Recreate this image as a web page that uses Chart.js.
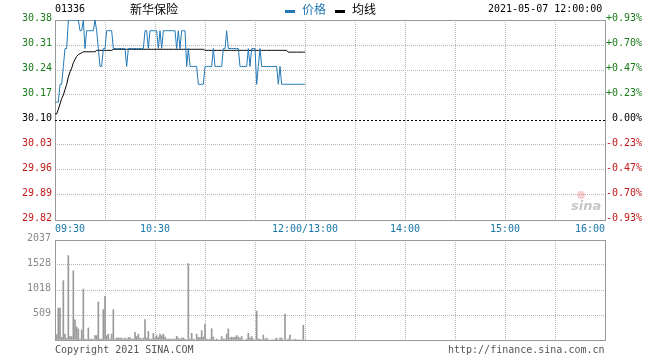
<!DOCTYPE html>
<html>
<head>
<meta charset="utf-8">
<script src="https://cdn.jsdelivr.net/npm/chart.js@4.4.0/dist/chart.umd.min.js"></script>
<style>
body{margin:0;background:#fff;width:660px;height:360px;position:relative;overflow:hidden;font-family:"DejaVu Sans Mono",monospace;font-size:10px;color:#000}
canvas{position:absolute;left:0}
#main{top:0}
#vol{top:230px}
.t{position:absolute;white-space:nowrap;line-height:12px}
.cjk{font-family:"Noto Sans CJK SC",sans-serif;font-size:12px;line-height:14px}
.dash{position:absolute;height:3px;width:10px}
</style>
</head>
<body>
<canvas id="main" width="660" height="235"></canvas>
<canvas id="vol" width="660" height="130"></canvas>

<div class="t" style="left:55px;top:3px">01336</div>
<div class="t cjk" style="left:130px;top:2px">新华保险</div>
<div class="dash" style="left:285px;top:10px;background:#2278b5"></div>
<div class="t cjk" style="left:302px;top:2px;color:#2278b5">价格</div>
<div class="dash" style="left:335px;top:10px;background:#000"></div>
<div class="t cjk" style="left:352px;top:2px">均线</div>
<div class="t" style="left:488px;top:3px">2021-05-07 12:00:00</div>
<div class="t" style="left:55px;top:344px;color:#555">Copyright 2021 SINA.COM</div>
<div class="t" style="left:448px;top:344px;color:#555">http://finance.sina.com.cn</div>

<script>
// minute prices 09:30 - 12:00, one per minute
const price = [
  30.15, 30.15, 30.15, 30.20, 30.20, 30.25, 30.30, 30.30, 30.38, 30.38,
  30.38, 30.38, 30.38, 30.38, 30.38, 30.35, 30.35, 30.38, 30.30, 30.35,
  30.35, 30.35, 30.35, 30.35, 30.38, 30.35, 30.30, 30.25, 30.25, 30.30,
  30.30, 30.35, 30.35, 30.35, 30.35, 30.30, 30.30, 30.30, 30.30, 30.30,
  30.30, 30.30, 30.30, 30.25, 30.30, 30.30, 30.30, 30.30, 30.30, 30.30,
  30.30, 30.30, 30.30, 30.30, 30.35, 30.35, 30.30, 30.35, 30.35, 30.35,
  30.35, 30.35, 30.30, 30.35, 30.30, 30.35, 30.35, 30.35, 30.35, 30.35,
  30.35, 30.35, 30.35, 30.30, 30.35, 30.30, 30.35, 30.35, 30.35, 30.25,
  30.30, 30.25, 30.25, 30.25, 30.25, 30.25, 30.20, 30.20, 30.20, 30.20,
  30.25, 30.25, 30.25, 30.25, 30.25, 30.30, 30.25, 30.25, 30.25, 30.25,
  30.25, 30.30, 30.30, 30.35, 30.30, 30.30, 30.30, 30.30, 30.30, 30.30,
  30.30, 30.25, 30.25, 30.25, 30.25, 30.25, 30.30, 30.25, 30.30, 30.30,
  30.30, 30.20, 30.25, 30.30, 30.25, 30.25, 30.25, 30.25, 30.25, 30.25,
  30.25, 30.25, 30.25, 30.25, 30.20, 30.25, 30.20, 30.20, 30.20, 30.20,
  30.20, 30.20, 30.20, 30.20, 30.20, 30.20, 30.20, 30.20, 30.20, 30.20,
  30.20
];

const avgPrice = [
  30.117, 30.117, 30.130, 30.145, 30.160, 30.170, 30.185, 30.200, 30.220, 30.235,
  30.245, 30.260, 30.270, 30.278, 30.283, 30.286, 30.288, 30.291, 30.291, 30.291,
  30.291, 30.291, 30.291, 30.291, 30.291, 30.295, 30.295, 30.295, 30.295, 30.295,
  30.295, 30.295, 30.295, 30.295, 30.295, 30.298, 30.298, 30.298, 30.298, 30.298,
  30.298, 30.298, 30.298, 30.298, 30.298, 30.298, 30.298, 30.298, 30.298, 30.298,
  30.298, 30.298, 30.298, 30.298, 30.298, 30.298, 30.298, 30.298, 30.298, 30.298,
  30.298, 30.298, 30.298, 30.298, 30.298, 30.298, 30.298, 30.298, 30.298, 30.298,
  30.298, 30.298, 30.298, 30.298, 30.298, 30.298, 30.298, 30.298, 30.298, 30.298,
  30.298, 30.298, 30.298, 30.298, 30.298, 30.298, 30.298, 30.298, 30.298, 30.298,
  30.295, 30.295, 30.295, 30.295, 30.295, 30.295, 30.295, 30.295, 30.295, 30.295,
  30.295, 30.295, 30.295, 30.295, 30.295, 30.295, 30.295, 30.295, 30.295, 30.295,
  30.295, 30.295, 30.295, 30.295, 30.295, 30.295, 30.295, 30.295, 30.295, 30.295,
  30.295, 30.295, 30.295, 30.295, 30.295, 30.295, 30.295, 30.295, 30.295, 30.295,
  30.295, 30.295, 30.295, 30.295, 30.295, 30.295, 30.295, 30.295, 30.295, 30.295,
  30.290, 30.290, 30.290, 30.290, 30.290, 30.290, 30.290, 30.290, 30.290, 30.290,
  30.290
];

const volume = [
    30,  110,  650,  650,   55, 1210,  120,   30, 1720,   70,
    70, 1410,  410,  265,  225,   20,  205, 1040,   20,   10,
   245,   20,   20,   10,   90,   90,  775,   20,   20,  620,
   890,   90,  120,   20,  120,  620,   20,   40,   40,   40,
    40,   20,   40,   20,   50,   50,   20,   20,  155,   70,
   120,   40,   20,   40,  415,   40,  175,   20,   20,  135,
    40,   90,   50,  120,   90,  120,   60,   20,   20,   20,
    20,   20,   20,   75,   40,   20,   40,   40,   20,    0,
  1555,   20,  135,   20,    0,  120,   50,   50,  190,   60,
   325,   20,    0,   20,  230,   60,    0,   20,    0,    0,
    70,   20,   20,  120,  225,   40,   60,   50,   60,   90,
    60,   40,   70,    0,    0,   20,  135,   40,   70,   20,
     0,  590,   20,   20,    0,  100,   20,   40,    0,    0,
     0,    0,   20,   40,    0,   40,   40,    0,  530,    0,
    20,  100,    0,    0,   20,    0,    0,    0,    0,  300,
     0
];

const prevClose = 30.10;
const priceTicks = [29.82, 29.89, 29.96, 30.03, 30.10, 30.17, 30.24, 30.31, 30.38];
const priceLabels = ['29.82', '29.89', '29.96', '30.03', '30.10', '30.17', '30.24', '30.31', '30.38'];
const pctLabels = ['-0.93%', '-0.70%', '-0.47%', '-0.23%', '0.00%', '+0.23%', '+0.47%', '+0.70%', '+0.93%'];
const volTicks = [0, 509, 1018, 1528, 2037];
const volLabels = ['', '509', '1018', '1528', '2037'];
// minutes since 09:30 on the trading axis (lunch break removed)
const timeTicks = [0, 30, 60, 90, 120, 150, 180, 210, 240, 270, 300, 330];
const timeLabels = ['09:30', '', '10:30', '', '', '12:00/13:00', '', '14:00', '', '15:00', '', '16:00'];

const font = { family: 'DejaVu Sans Mono', size: 10 };
const gridColor = '#b4b4b4';
const upColor = '#1a7a1a';
const downColor = '#c01818';

function tickColor(i) {
  if (i < 4) return downColor;
  if (i > 4) return upColor;
  return '#000';
}

const framePlugin = {
  id: 'frame',
  beforeDatasetsDraw(chart, args, opts) {
    const a = chart.chartArea;
    const ctx = chart.ctx;
    ctx.save();
    ctx.strokeStyle = '#999';
    ctx.lineWidth = 1;
    ctx.strokeRect(Math.round(a.left) + 0.5, Math.round(a.top) + 0.5,
      Math.round(a.right - a.left), Math.round(a.bottom - a.top));
    if (opts.prevLine) {
      const y = Math.round(chart.scales.y.getPixelForValue(prevClose)) + 0.5;
      ctx.strokeStyle = '#000';
      ctx.setLineDash([2, 2]);
      ctx.beginPath();
      ctx.moveTo(a.left, y);
      ctx.lineTo(a.right, y);
      ctx.stroke();
    }
    ctx.restore();
  },
  afterDraw(chart, args, opts) {
    if (!opts.logo) return;
    const ctx = chart.ctx;
    const a = chart.chartArea;
    ctx.save();
    ctx.fillStyle = 'rgba(230,120,120,0.35)';
    ctx.beginPath();
    ctx.arc(a.right - 24, a.bottom - 25, 4, 0, Math.PI * 2);
    ctx.fill();
    ctx.fillStyle = 'rgba(150,150,150,0.55)';
    ctx.font = 'italic bold 13px "DejaVu Sans"';
    ctx.textBaseline = 'alphabetic';
    ctx.fillText('sina', a.right - 34, a.bottom - 10);
    ctx.restore();
  }
};

const xAxis = (showLabels) => ({
  type: 'linear',
  min: 0,
  max: 330,
  offset: false,
  afterBuildTicks: s => { s.ticks = timeTicks.map(v => ({ value: v })); },
  afterFit: s => { s.height = showLabels ? 15 : 0; },
  grid: { color: gridColor, drawTicks: false, offset: false },
  border: { display: false, dash: [1, 1] },
  ticks: {
    display: showLabels,
    autoSkip: false,
    maxRotation: 0,
    align: 'inner',
    padding: 3,
    color: '#1a76a8',
    font: font,
    callback: (v, i) => timeLabels[i]
  }
});

new Chart(document.getElementById('main'), {
  type: 'line',
  data: {
    datasets: [
      {
        label: '价格',
        data: price.map((v, i) => ({ x: i, y: v })),
        borderColor: '#2278b5',
        borderWidth: 1,
        pointRadius: 0,
        tension: 0
      },
      {
        label: '均线',
        data: avgPrice.map((v, i) => ({ x: i, y: v })),
        borderColor: '#000',
        borderWidth: 1,
        pointRadius: 0,
        tension: 0
      }
    ]
  },
  options: {
    responsive: false,
    animation: false,
    events: [],
    layout: { padding: { top: 20, right: 18 } },
    plugins: {
      legend: { display: false },
      tooltip: { enabled: false },
      frame: { prevLine: true, logo: true }
    },
    scales: {
      x: xAxis(true),
      y: {
        position: 'left',
        min: priceTicks[0],
        max: priceTicks[priceTicks.length - 1],
        afterBuildTicks: s => { s.ticks = priceTicks.map(v => ({ value: v })); },
        afterFit: s => { s.width = 55; },
        grid: {
          drawTicks: false,
          color: c => (c.index === 4 ? 'rgba(0,0,0,0)' : gridColor)
        },
        border: { display: false, dash: [1, 1] },
        ticks: {
          padding: 3,
          labelOffset: -2,
          font: font,
          color: c => tickColor(c.index),
          callback: (v, i) => priceLabels[i]
        }
      },
      y2: {
        position: 'right',
        min: priceTicks[0],
        max: priceTicks[priceTicks.length - 1],
        afterBuildTicks: s => { s.ticks = priceTicks.map(v => ({ value: v })); },
        afterFit: s => { s.width = 37; },
        grid: { display: false, drawTicks: false },
        border: { display: false },
        ticks: {
          padding: 2,
          labelOffset: -2,
          crossAlign: 'far',
          font: font,
          color: c => tickColor(c.index),
          callback: (v, i) => pctLabels[i]
        }
      }
    }
  },
  plugins: [framePlugin]
});

new Chart(document.getElementById('vol'), {
  type: 'bar',
  data: {
    datasets: [{
      label: '成交量',
      data: volume.map((v, i) => ({ x: i, y: v })),
      backgroundColor: '#999',
      barThickness: 1
    }]
  },
  options: {
    responsive: false,
    animation: false,
    events: [],
    layout: { padding: { top: 6, bottom: 20, right: 55 } },
    plugins: {
      legend: { display: false },
      tooltip: { enabled: false },
      frame: { prevLine: false, logo: false }
    },
    scales: {
      x: xAxis(false),
      y: {
        position: 'left',
        min: 0,
        max: volTicks[volTicks.length - 1],
        afterBuildTicks: s => { s.ticks = volTicks.map(v => ({ value: v })); },
        afterFit: s => { s.width = 55; },
        grid: { color: gridColor, drawTicks: false },
        border: { display: false, dash: [1, 1] },
        ticks: {
          padding: 4,
          labelOffset: -2,
          font: font,
          color: '#888',
          callback: (v, i) => volLabels[i]
        }
      }
    }
  },
  plugins: [framePlugin]
});
</script>
</body>
</html>
